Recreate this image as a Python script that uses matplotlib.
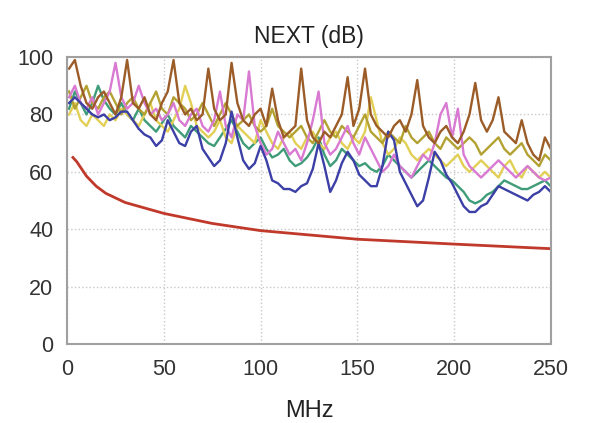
import matplotlib
matplotlib.use("Agg")
import matplotlib.pyplot as plt
import numpy as np

plt.rcParams['font.family'] = ['Liberation Sans', 'DejaVu Sans']

# frecuencias de medida (MHz), paso de 3 MHz
freq = np.arange(1, 251, 3)

azul = [84, 86, 84, 82, 80, 79, 80, 78, 79, 81, 81, 78, 75, 73, 72, 69, 71, 78, 74, 70,
        69, 74, 76, 68, 65, 62, 64, 70, 81, 72, 64, 61, 63, 69, 64, 57, 56, 54, 54, 53,
        55, 56, 61, 70, 62, 53, 57, 63, 67, 64, 59, 57, 55, 55, 62, 74, 71, 60, 56, 52,
        48, 50, 58, 67, 64, 59, 56, 52, 48, 46, 46, 48, 49, 52, 55, 54, 53, 52, 51, 50,
        52, 53, 55, 53]
verde = [82, 88, 84, 80, 84, 90, 85, 82, 80, 84, 80, 78, 82, 78, 76, 74, 77, 80, 76, 74,
         72, 76, 74, 72, 70, 69, 72, 75, 78, 74, 70, 68, 70, 72, 68, 65, 66, 68, 64, 62,
         63, 65, 68, 72, 66, 62, 64, 68, 66, 64, 62, 63, 61, 60, 62, 66, 64, 62, 60, 58,
         60, 62, 64, 62, 60, 58, 57, 55, 53, 50, 49, 50, 52, 53, 55, 57, 56, 55, 54, 54,
         55, 56, 57, 55]
rosa = [86, 90, 84, 82, 86, 80, 84, 88, 98, 86, 82, 84, 90, 84, 80, 82, 78, 80, 84, 78,
        76, 80, 82, 76, 74, 78, 88, 76, 72, 80, 78, 95, 76, 70, 66, 68, 74, 70, 66, 68,
        64, 70, 78, 88, 70, 66, 68, 72, 76, 70, 66, 72, 68, 64, 60, 62, 66, 62, 60, 58,
        62, 66, 64, 70, 80, 84, 72, 82, 66, 62, 60, 58, 60, 62, 64, 62, 60, 58, 60, 62,
        60, 58, 57, 58]
marron = [96, 99, 90, 84, 82, 86, 88, 84, 80, 86, 99, 84, 82, 86, 80, 78, 84, 88, 99, 84,
          80, 82, 78, 80, 96, 82, 78, 80, 98, 84, 78, 76, 80, 82, 76, 89, 78, 72, 74, 76,
          96, 78, 72, 70, 74, 72, 76, 80, 93, 76, 82, 96, 80, 76, 74, 72, 76, 78, 74, 80,
          92, 76, 72, 70, 74, 76, 72, 70, 74, 80, 91, 78, 74, 78, 86, 74, 72, 70, 78, 70,
          66, 64, 72, 68]
amarillo = [80, 84, 78, 76, 80, 78, 76, 80, 78, 82, 80, 78, 76, 80, 84, 78, 76, 74, 78, 82,
            90, 84, 76, 74, 72, 74, 78, 72, 70, 76, 74, 72, 70, 78, 74, 70, 68, 72, 74, 70,
            68, 72, 74, 70, 68, 72, 74, 70, 68, 72, 70, 74, 86, 78, 70, 66, 68, 72, 70, 66,
            64, 66, 68, 66, 64, 62, 64, 66, 62, 60, 62, 64, 62, 60, 58, 62, 64, 60, 58, 62,
            60, 58, 60, 58]
oliva = [88, 82, 86, 90, 84, 82, 86, 88, 84, 80, 84, 86, 82, 80, 84, 88, 82, 80, 86, 84,
         82, 78, 80, 84, 80, 76, 80, 84, 80, 76, 78, 80, 76, 74, 76, 82, 76, 74, 72, 74,
         76, 72, 70, 74, 78, 74, 72, 76, 74, 72, 76, 80, 74, 72, 70, 74, 72, 70, 76, 72,
         70, 72, 74, 70, 68, 72, 70, 68, 70, 72, 70, 66, 68, 70, 72, 68, 66, 68, 70, 66,
         64, 62, 66, 64]

# limite (linea roja)
freq_lim = [3, 5, 10, 15, 20, 30, 50, 75, 100, 150, 200, 250]
limite = [65, 63.5, 58.5, 55, 52.5, 49.3, 45.5, 42, 39.5, 36.5, 34.8, 33.2]

series = [
    (verde, '#3f9c78'),
    (amarillo, '#e2cf55'),
    (oliva, '#b3a232'),
    (rosa, '#d97ad2'),
    (azul, '#3b3fa6'),
    (marron, '#9b5c28'),
]

fig = plt.figure(figsize=(5.89, 4.23), dpi=100)
ax = fig.add_axes([0.114, 0.187, 0.821, 0.678])

for valores, color in series:
    ax.plot(freq, valores, color=color, lw=1.7)

ax.plot(freq_lim, limite, color='#c0392b', lw=2)

# Configurar los ejes
ax.set_xlim(0, 250)
ax.set_ylim(0, 100)
ax.set_xticks([0, 50, 100, 150, 200, 250])
ax.set_yticks([0, 20, 40, 60, 80, 100])
ax.tick_params(length=0, labelsize=15.5, colors='#333333')
ax.tick_params(axis='x', pad=11)
ax.tick_params(axis='y', pad=10)
ax.grid(True, linestyle=':', color='#c8c8c8', lw=1)
for s in ax.spines.values():
    s.set_color('#a0a0a0')
    s.set_linewidth(1.5)

ax.set_title('NEXT (dB)', fontsize=16.5, color='#222222', pad=10)
ax.set_xlabel('MHz', fontsize=17, color='#222222', labelpad=14)

fig.savefig('out.png', dpi=100)
